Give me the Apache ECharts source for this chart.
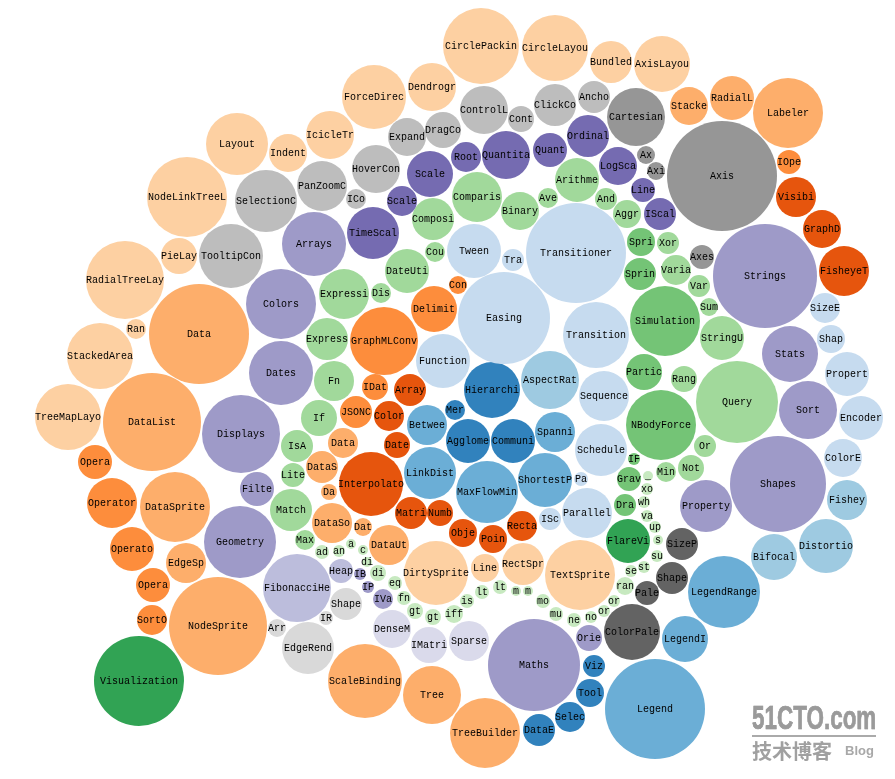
<!DOCTYPE html>
<html><head><meta charset="utf-8">
<style>html,body{margin:0;padding:0;background:#fff}#c{width:895px;height:779px}</style>
<script src="https://cdn.jsdelivr.net/npm/echarts@6/dist/echarts.min.js"></script>
</head><body><div id="c"></div>
<script>
// Each row: [x, y, radius, name]
const blue1 = [[492,390,28,"Hierarchi"],[455,410,10,"Mer"],[468,441,22,"Agglome"],[513,441,22,"Communi"],[594,666,11,"Viz"],[590,693,14,"Tool"],[570,717,15,"Selec"],[539,730,16,"DataE"]];
const blue2 = [[427,425,20,"Betwee"],[555,432,20,"Spanni"],[430,473,26,"LinkDist"],[487,492,31,"MaxFlowMin"],[545,480,27,"ShortestP"],[724,592,36,"LegendRange"],[685,639,23,"LegendI"],[655,709,50,"Legend"]];
const blue3 = [[550,380,29,"AspectRat"],[847,500,20,"Fishey"],[826,546,27,"Distortio"],[774,557,23,"Bifocal"]];
const blue4 = [[443,361,27,"Function"],[474,251,27,"Tween"],[513,260,11,"Tra"],[576,253,50,"Transitioner"],[504,318,46,"Easing"],[596,335,33,"Transition"],[604,396,25,"Sequence"],[601,450,26,"Schedule"],[581,479,7,"Pa"],[587,513,25,"Parallel"],[550,519,11,"ISc"],[825,308,15,"SizeE"],[831,339,14,"Shap"],[847,374,22,"Propert"],[861,418,22,"Encoder"],[843,458,19,"ColorE"]];
const red1 = [[410,390,16,"Array"],[389,416,15,"Color"],[397,445,13,"Date"],[371,484,32,"Interpolato"],[411,513,16,"Matri"],[440,513,13,"Numb"],[463,533,14,"Obje"],[493,539,14,"Poin"],[522,526,15,"Recta"],[796,197,20,"Visibi"],[822,229,19,"GraphD"],[844,271,25,"FisheyeT"]];
const orange2 = [[434,309,23,"Delimit"],[384,341,34,"GraphMLConv"],[375,387,13,"IDat"],[356,412,16,"JSONC"],[458,285,9,"Con"],[789,162,12,"IOpe"],[95,462,17,"Opera"],[112,503,25,"Operator"],[132,549,22,"Operato"],[153,585,17,"Opera"],[152,620,15,"SortO"]];
const orange3 = [[199,334,50,"Data"],[152,422,49,"DataList"],[175,507,35,"DataSprite"],[186,563,20,"EdgeSp"],[218,626,49,"NodeSprite"],[343,443,15,"Data"],[322,467,16,"DataS"],[329,492,8,"Da"],[332,523,20,"DataSo"],[363,527,9,"Dat"],[389,545,20,"DataUt"],[365,681,37,"ScaleBinding"],[432,695,29,"Tree"],[485,733,35,"TreeBuilder"],[689,106,19,"Stacke"],[732,98,22,"RadialL"],[788,113,35,"Labeler"]];
const orange4 = [[374,97,32,"ForceDirec"],[432,87,24,"Dendrogr"],[237,144,31,"Layout"],[288,153,19,"Indent"],[330,135,24,"IcicleTr"],[187,197,40,"NodeLinkTreeL"],[179,256,18,"PieLay"],[125,280,39,"RadialTreeLay"],[136,329,10,"Ran"],[100,356,33,"StackedArea"],[68,417,33,"TreeMapLayo"],[481,46,38,"CirclePackin"],[555,48,33,"CircleLayou"],[611,62,21,"Bundled"],[662,64,28,"AxisLayou"],[436,573,32,"DirtySprite"],[485,568,14,"Line"],[523,564,21,"RectSpr"],[580,575,35,"TextSprite"]];
const green1 = [[139,681,45,"Visualization"],[628,541,22,"FlareVi"]];
const green2 = [[641,242,14,"Spri"],[640,274,16,"Sprin"],[665,321,35,"Simulation"],[644,372,18,"Partic"],[661,425,35,"NBodyForce"],[634,459,6,"IF"],[629,479,12,"Grav"],[625,505,11,"Dra"]];
const green3 = [[433,219,21,"Composi"],[435,252,10,"Cou"],[407,271,22,"DateUti"],[344,294,25,"Expressi"],[381,293,10,"Dis"],[327,339,21,"Express"],[334,381,20,"Fn"],[477,197,25,"Comparis"],[520,211,19,"Binary"],[548,198,10,"Ave"],[577,180,22,"Arithme"],[606,199,11,"And"],[627,214,14,"Aggr"],[668,243,11,"Xor"],[676,270,15,"Varia"],[699,286,11,"Var"],[709,307,9,"Sum"],[722,338,22,"StringU"],[684,379,13,"Rang"],[737,402,41,"Query"],[705,446,11,"Or"],[691,468,13,"Not"],[666,472,10,"Min"],[319,418,18,"If"],[297,446,16,"IsA"],[293,475,12,"Lite"],[291,510,21,"Match"],[305,540,10,"Max"]];
const green4 = [[648,476,5,"_"],[647,489,6,"xo"],[644,502,6,"wh"],[647,516,6,"va"],[655,527,6,"up"],[658,540,5,"s"],[657,556,6,"su"],[644,567,6,"st"],[631,571,6,"se"],[625,586,9,"ran"],[614,601,6,"or"],[604,611,6,"or"],[591,617,6,"no"],[574,620,7,"ne"],[556,614,7,"mu"],[543,601,7,"mo"],[528,591,5,"m"],[516,591,5,"m"],[500,587,7,"lt"],[482,592,7,"lt"],[467,601,7,"is"],[454,614,9,"iff"],[433,617,8,"gt"],[415,611,8,"gt"],[404,598,7,"fn"],[395,583,7,"eq"],[378,573,8,"di"],[367,562,5,"di"],[363,550,5,"c"],[351,544,5,"a"],[339,551,6,"an"],[322,552,7,"ad"]];
const purple1 = [[430,174,23,"Scale"],[402,201,15,"Scale"],[373,233,26,"TimeScal"],[466,157,15,"Root"],[506,155,24,"Quantita"],[550,150,17,"Quant"],[588,136,21,"Ordinal"],[618,166,19,"LogSca"],[643,190,12,"Line"],[660,214,16,"IScal"]];
const purple2 = [[314,244,32,"Arrays"],[281,304,35,"Colors"],[281,373,32,"Dates"],[241,434,39,"Displays"],[257,489,17,"Filte"],[240,542,36,"Geometry"],[765,276,52,"Strings"],[790,354,28,"Stats"],[808,410,29,"Sort"],[778,484,48,"Shapes"],[706,506,26,"Property"],[534,665,46,"Maths"],[589,638,13,"Orie"],[360,574,6,"IB"],[368,587,6,"IP"],[383,599,10,"IVa"]];
const purple3 = [[297,588,34,"FibonacciHe"],[341,571,12,"Heap"]];
const purple4 = [[392,629,19,"DenseM"],[429,645,18,"IMatri"],[469,641,20,"Sparse"]];
const gray1 = [[682,544,16,"SizeP"],[672,578,16,"Shape"],[647,593,12,"Pale"],[632,632,28,"ColorPale"]];
const gray2 = [[636,117,29,"Cartesian"],[646,155,9,"Ax"],[656,171,9,"Axi"],[722,176,55,"Axis"],[702,257,12,"Axes"]];
const gray3 = [[407,137,19,"Expand"],[443,130,18,"DragCo"],[484,110,24,"ControlL"],[521,119,13,"Cont"],[555,105,21,"ClickCo"],[594,97,16,"Ancho"],[266,201,31,"SelectionC"],[322,186,25,"PanZoomC"],[376,169,24,"HoverCon"],[356,199,10,"ICo"],[231,256,32,"TooltipCon"]];
const gray4 = [[346,604,16,"Shape"],[277,628,9,"Arr"],[326,618,7,"IR"],[308,648,26,"EdgeRend"]];

const groups = [
  [blue1,'#3182bd'],[blue2,'#6baed6'],[blue3,'#9ecae1'],[blue4,'#c6dbef'],
  [red1,'#e6550d'],[orange2,'#fd8d3c'],[orange3,'#fdae6b'],[orange4,'#fdd0a2'],
  [green1,'#31a354'],[green2,'#74c476'],[green3,'#a1d99b'],[green4,'#c7e9c0'],
  [purple1,'#756bb1'],[purple2,'#9e9ac8'],[purple3,'#bcbddc'],[purple4,'#dadaeb'],
  [gray1,'#636363'],[gray2,'#969696'],[gray3,'#bdbdbd'],[gray4,'#d9d9d9']
];
const chart = echarts.init(document.getElementById('c'), null, {renderer:'canvas'});
chart.setOption({
  animation:false,
  backgroundColor:'#fff',
  grid:{left:0,right:0,top:0,bottom:0},
  xAxis:{type:'value',min:0,max:895,show:false},
  yAxis:{type:'value',min:0,max:779,inverse:true,show:false},
  series:groups.map(([rows,color])=>({
    type:'scatter',
    data:rows,
    symbol:'circle',
    symbolSize:d=>d[2]*2,
    silent:true,
    itemStyle:{color:color,opacity:1},
    label:{show:true,position:'inside',formatter:p=>p.data[3],color:'#000',
      fontFamily:'"Liberation Mono"',fontSize:10,fontWeight:'normal'}
  })),
  graphic:[
    {type:'text',x:752,y:703,scaleX:0.68,style:{text:'51CTO.com',fill:'#9a9a9a',font:'bold 33px "Liberation Sans"',stroke:'#7a7a7a',lineWidth:0.6}},
    {type:'rect',x:752,y:735,shape:{width:124,height:2},style:{fill:'#aaa'}},
    {type:'text',x:752,y:741,style:{text:'技术博客',fill:'#a0a0a0',font:'bold 20px "Noto Sans CJK SC"'}},
    {type:'text',x:845,y:745,style:{text:'Blog',fill:'#a8a8a8',font:'bold 13px "Liberation Sans"'}}
  ]
});
</script></body></html>
